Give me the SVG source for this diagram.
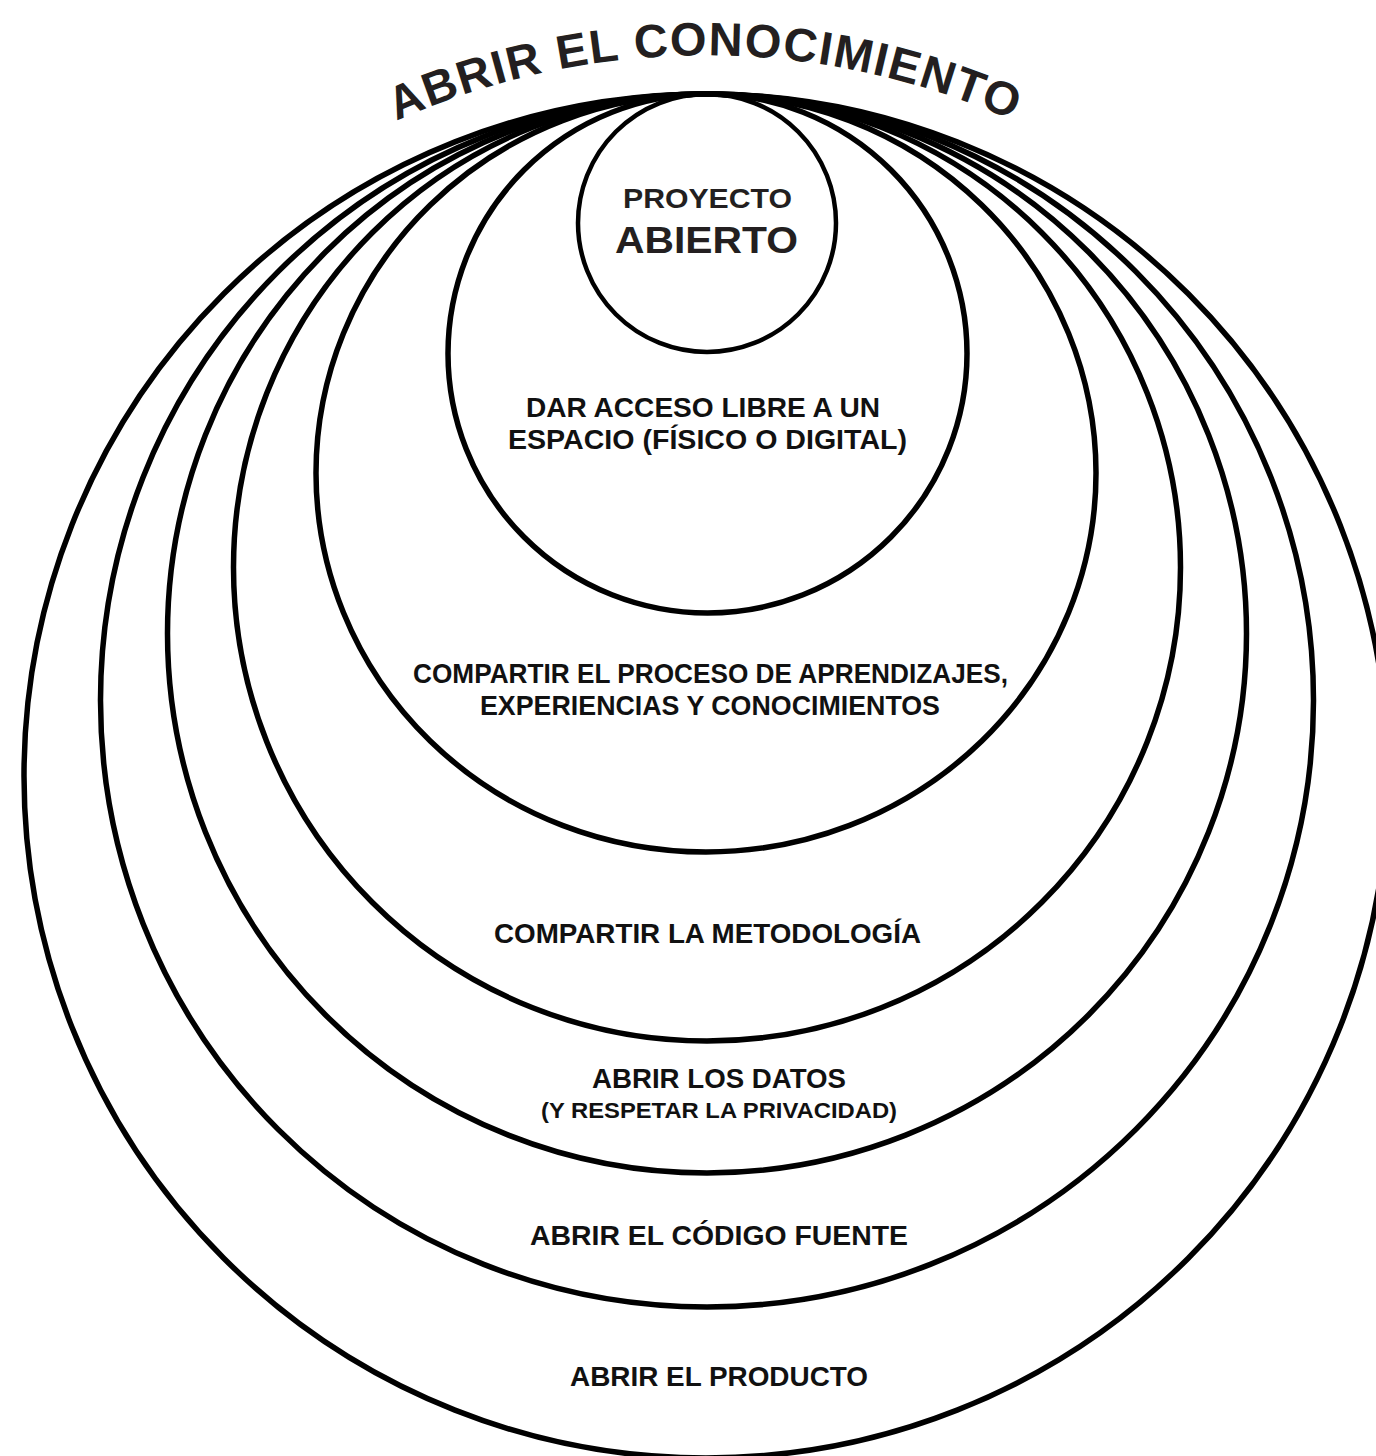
<svg xmlns="http://www.w3.org/2000/svg" width="1376" height="1456" viewBox="0 0 1376 1456">
<style>
.ring{fill:none;stroke:#000;stroke-width:5.5}
.lbl{font-family:"Liberation Sans",Arial,sans-serif;font-weight:bold;fill:#111;text-anchor:middle}
.title{font-family:"Liberation Sans",Arial,sans-serif;font-weight:bold;fill:#231f20;font-size:47px;letter-spacing:1.5px}
.core{fill:#231f20}
</style>
<defs>
<path id="arc" d="M205,243 A760,760 0 0 1 1205,243"/>
</defs>
<rect width="1376" height="1456" fill="#fff"/>
<g id="title">
<text class="title" text-anchor="middle"><textPath href="#arc" startOffset="50%">ABRIR EL CONOCIMIENTO</textPath></text>
</g>
<g id="ring7">
<circle class="ring" cx="706" cy="776" r="682"/>
<text class="lbl" x="719" y="1386" font-size="28" textLength="298" lengthAdjust="spacingAndGlyphs">ABRIR EL PRODUCTO</text>
</g>
<g id="ring6">
<circle class="ring" cx="707" cy="700.5" r="606.5"/>
<text class="lbl" x="719" y="1245" font-size="28" textLength="378" lengthAdjust="spacingAndGlyphs">ABRIR EL CÓDIGO FUENTE</text>
</g>
<g id="ring5">
<circle class="ring" cx="707" cy="633.5" r="539.5"/>
<text class="lbl" x="719" y="1088" font-size="28" textLength="254" lengthAdjust="spacingAndGlyphs">ABRIR LOS DATOS</text>
<text class="lbl" x="719" y="1118" font-size="22" textLength="356" lengthAdjust="spacingAndGlyphs">(Y RESPETAR LA PRIVACIDAD)</text>
</g>
<g id="ring4">
<circle class="ring" cx="707" cy="567.5" r="473.5"/>
<text class="lbl" x="707.5" y="943" font-size="28" textLength="427" lengthAdjust="spacingAndGlyphs">COMPARTIR LA METODOLOGÍA</text>
</g>
<g id="ring3">
<ellipse class="ring" cx="706" cy="473" rx="390" ry="379"/>
<text class="lbl" x="710.5" y="683" font-size="28" textLength="595" lengthAdjust="spacingAndGlyphs">COMPARTIR EL PROCESO DE APRENDIZAJES,</text>
<text class="lbl" x="710" y="715" font-size="28" textLength="460" lengthAdjust="spacingAndGlyphs">EXPERIENCIAS Y CONOCIMIENTOS</text>
</g>
<g id="ring2">
<circle class="ring" cx="707.5" cy="353.5" r="259.5"/>
<text class="lbl" x="703" y="417" font-size="28" textLength="354" lengthAdjust="spacingAndGlyphs">DAR ACCESO LIBRE A UN</text>
<text class="lbl" x="707.5" y="449" font-size="28" textLength="399" lengthAdjust="spacingAndGlyphs">ESPACIO (FÍSICO O DIGITAL)</text>
</g>
<g id="ring1">
<circle class="ring" cx="707" cy="223" r="129" style="stroke-width:4.5"/>
<text class="lbl core" x="707.5" y="208" font-size="28" textLength="169" lengthAdjust="spacingAndGlyphs">PROYECTO</text>
<text class="lbl core" x="706.5" y="253" font-size="37" textLength="183" lengthAdjust="spacingAndGlyphs">ABIERTO</text>
</g>
<g id="connectors"/>
</svg>
